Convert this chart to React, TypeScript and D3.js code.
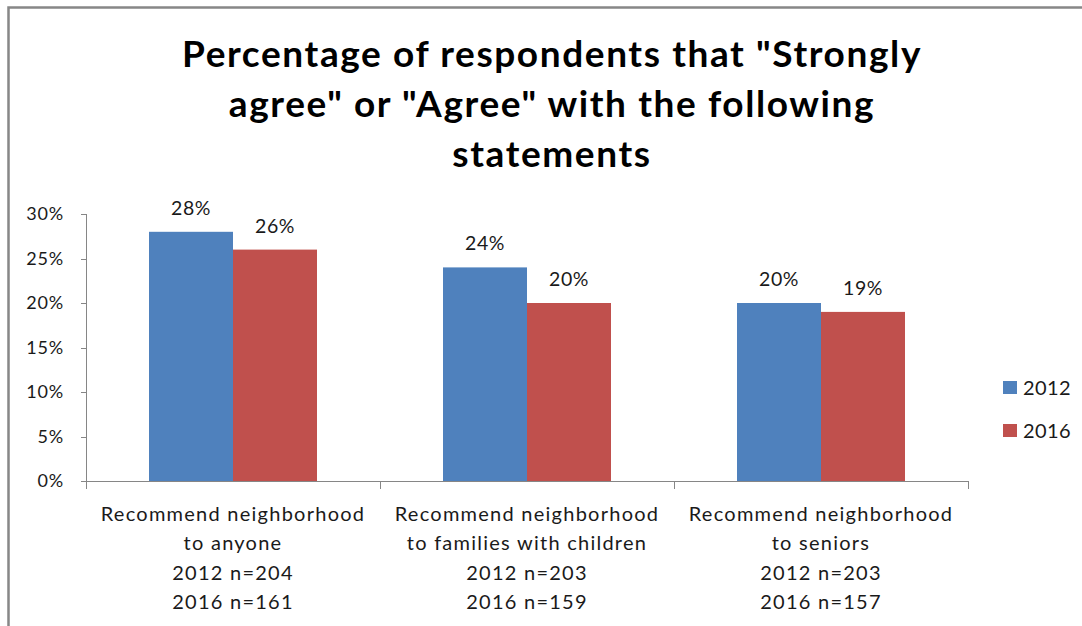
import React from "react";
import * as d3 from "d3";

const categories = [
  ["Recommend neighborhood", "to anyone", "2012 n=204", "2016 n=161"],
  ["Recommend neighborhood", "to families with children", "2012 n=203", "2016 n=159"],
  ["Recommend neighborhood", "to seniors", "2012 n=203", "2016 n=157"],
];
const seriesNames = ["2012", "2016"];
const values2012 = [28, 24, 20];
const values2016 = [26, 20, 19];
const yTicks = [0, 5, 10, 15, 20, 25, 30];
const titleLines = [
  'Percentage of respondents that "Strongly',
  'agree" or "Agree" with the following',
  "statements",
];
const colors = ["#4F81BD", "#C0504D"];

const FONT = "Lato, 'Open Sans', sans-serif";

export default function App() {
  const W = 1082, H = 626;
  const left = 86, right = 968, top = 214, bottom = 481;
  const x0 = d3.scaleBand<number>().domain(d3.range(categories.length)).range([left, right]).padding(0);
  const y = d3.scaleLinear().domain([0, 30]).range([bottom, top]);
  const groupW = x0.bandwidth() * (168 / 294);
  const x1 = d3.scaleBand<number>().domain([0, 1]).range([0, groupW]).padding(0);
  const series = [values2012, values2016];
  const axisColor = "#868686";
  const textColor = "#1a1a1a";

  return (
    <svg width={W} height={H} style={{ position: "absolute", left: 0, top: 0, background: "#fff" }} fontFamily={FONT}>
      <rect x={0} y={0} width={W} height={H} fill="#fff" />
      <path d={`M8.5,${H} V7.5 H${W}`} fill="none" stroke="#878787" strokeWidth={2.5} />
      {titleLines.map((t, i) => (
        <text key={i} x={552} y={67 + i * 50} textAnchor="middle" fontSize={37} fontWeight="bold" letterSpacing={1.6} fill="#000">
          {t}
        </text>
      ))}
      {/* y axis */}
      <line x1={left + 0.5} x2={left + 0.5} y1={top} y2={bottom} stroke={axisColor} />
      {yTicks.map((t) => (
        <g key={t}>
          <line x1={left - 5} x2={left} y1={Math.round(y(t)) + 0.5} y2={Math.round(y(t)) + 0.5} stroke={axisColor} />
          <text x={64} y={y(t)} dy="0.35em" textAnchor="end" fontSize={18} letterSpacing={0.8} fill={textColor}>
            {t}%
          </text>
        </g>
      ))}
      {/* x axis */}
      <line x1={left} x2={right} y1={bottom + 0.5} y2={bottom + 0.5} stroke={axisColor} />
      {d3.range(categories.length + 1).map((i) => {
        const xx = Math.round(left + i * x0.bandwidth()) + 0.5;
        return <line key={i} x1={xx} x2={xx} y1={bottom} y2={bottom + 8} stroke={axisColor} />;
      })}
      {categories.map((lines, ci) => {
        const cx = (x0(ci) as number) + x0.bandwidth() / 2;
        return (
          <g key={ci}>
            {lines.map((l, li) => (
              <text key={li} x={cx} y={521 + li * 29.3} textAnchor="middle" fontSize={20} letterSpacing={1.25} fill={textColor}>
                {l}
              </text>
            ))}
          </g>
        );
      })}
      {/* bars */}
      {categories.map((_, ci) => {
        const gx = (x0(ci) as number) + (x0.bandwidth() - groupW) / 2;
        return (
          <g key={ci}>
            {series.map((vals, si) => {
              const bx = gx + (x1(si) as number);
              const v = vals[ci];
              return (
                <g key={si}>
                  <rect x={bx} y={y(v)} width={x1.bandwidth()} height={bottom - y(v)} fill={colors[si]} />
                  <text x={bx + x1.bandwidth() / 2} y={y(v) - 17} textAnchor="middle" fontSize={19.5} letterSpacing={0.5} fill={textColor}>
                    {v}%
                  </text>
                </g>
              );
            })}
          </g>
        );
      })}
      {/* legend */}
      {seriesNames.map((s, i) => (
        <g key={s}>
          <rect x={1003} y={381 + i * 43} width={14} height={13} fill={colors[i]} />
          <text x={1023} y={395 + i * 43} fontSize={20} letterSpacing={0.4} fill={textColor}>
            {s}
          </text>
        </g>
      ))}
    </svg>
  );
}
